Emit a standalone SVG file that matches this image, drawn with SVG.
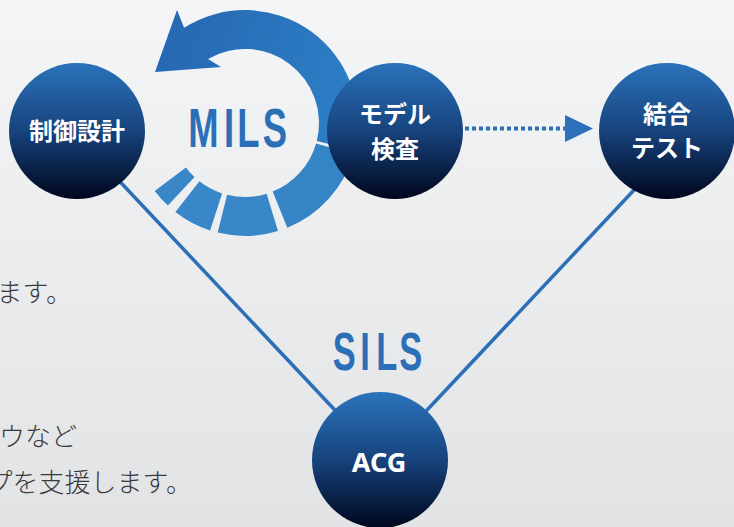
<svg xmlns="http://www.w3.org/2000/svg" width="734" height="527" viewBox="0 0 734 527">
<defs>
<linearGradient id="bg" x1="0" y1="0" x2="0" y2="1">
<stop offset="0" stop-color="#f4f5f6"/>
<stop offset="1" stop-color="#e2e3e5"/>
</linearGradient>
<linearGradient id="node" x1="0" y1="0" x2="0" y2="1">
<stop offset="0" stop-color="#2b73bb"/>
<stop offset="0.5" stop-color="#17437d"/>
<stop offset="1" stop-color="#00061d"/>
</linearGradient>
<linearGradient id="ring" gradientUnits="userSpaceOnUse" x1="150" y1="60" x2="360" y2="120">
<stop offset="0" stop-color="#2767b1"/>
<stop offset="1" stop-color="#2c80c7"/>
</linearGradient>
<marker id="ah" viewBox="0 0 28 27" refX="0" refY="13.5" markerWidth="28" markerHeight="27" markerUnits="userSpaceOnUse" orient="auto">
<path d="M0,0 L28,13.5 L0,27 Z" fill="#2b70b8"/>
</marker>
</defs>
<style>
.node circle{fill:url(#node);}
.nt{fill:#ffffff;font-family:"Noto Sans CJK JP",sans-serif;font-weight:700;font-size:24px;text-anchor:middle;}
.acg{fill:#ffffff;font-family:"Noto Sans",sans-serif;font-weight:700;font-size:27px;text-anchor:middle;}
.lbl{fill:#2b6fb7;font-family:"Liberation Sans",Arial,sans-serif;font-weight:700;text-anchor:middle;}
.body{fill:#3a3a3a;font-family:"Noto Sans CJK JP",sans-serif;font-weight:300;font-size:26px;text-anchor:end;}
.seg{fill:#3987c8;}
.conn{stroke:#2b6fb8;stroke-width:3.5;fill:none;}
</style>
<rect width="734" height="527" fill="url(#bg)"/>

<g id="side-text">
<text class="body" x="72" y="302">ます。</text>
<text class="body" x="77" y="446">ウなど</text>
<text class="body" x="192" y="492">プを支援します。</text>
</g>

<g id="mils-cycle">
<path fill="url(#ring)" d="M354.6,150.3 A113,113 0 0 0 184.1,27.8 L177,10 L155,72 L221,67 L208,58.9 A74,74 0 0 1 316.8,140.9 Z"/>
<path fill="#3584c6" d="M316.1,143.4 A74,74 0 0 1 272.7,191.6 L287.3,227.8 A113,113 0 0 0 353.6,154.1 Z"/>
<path class="seg" d="M266.6,193.8 A74,74 0 0 1 227.1,194.8 L217.7,232.6 A113,113 0 0 0 278.0,231.1 Z"/>
<path class="seg" d="M222.1,193.4 A74,74 0 0 1 199.4,181.3 L175.4,212.0 A113,113 0 0 0 210.1,230.5 Z"/>
<path class="seg" d="M194.5,177.1 A74,74 0 0 1 185.9,167.5 L154.7,191.0 A113,113 0 0 0 167.9,205.6 Z"/>
<text class="lbl" font-size="56" transform="translate(0,147) scale(0.65,1)" x="313.1 352.3 382.3 423.1" y="0">MILS</text>
</g>

<g id="connectors">
<line class="conn" x1="77" y1="136" x2="380" y2="458"/>
<line class="conn" x1="380" y1="460" x2="667" y2="155"/>
<line stroke="#2b70b8" stroke-width="4" stroke-dasharray="4 3" x1="465" y1="128.5" x2="565" y2="128.5" marker-end="url(#ah)"/>
<text class="lbl" font-size="53" transform="translate(0,370) scale(0.65,1)" x="529.5 561.5 594.9 632" y="0">SILS</text>
</g>

<g id="node-seigyo" class="node">
<circle cx="77" cy="131" r="68"/>
<text class="nt" x="77" y="139.5">制御設計</text>
</g>
<g id="node-model" class="node">
<circle cx="395" cy="131" r="68"/>
<text class="nt" x="395" y="122.5">モデル</text>
<text class="nt" x="395" y="157.5">検査</text>
</g>
<g id="node-ketsugo" class="node">
<circle cx="667" cy="131" r="68"/>
<text class="nt" x="667" y="122.5">結合</text>
<text class="nt" x="667" y="157">テスト</text>
</g>
<g id="node-acg" class="node">
<circle cx="380" cy="460" r="68"/>
<text class="acg" x="379" y="472">ACG</text>
</g>
</svg>
